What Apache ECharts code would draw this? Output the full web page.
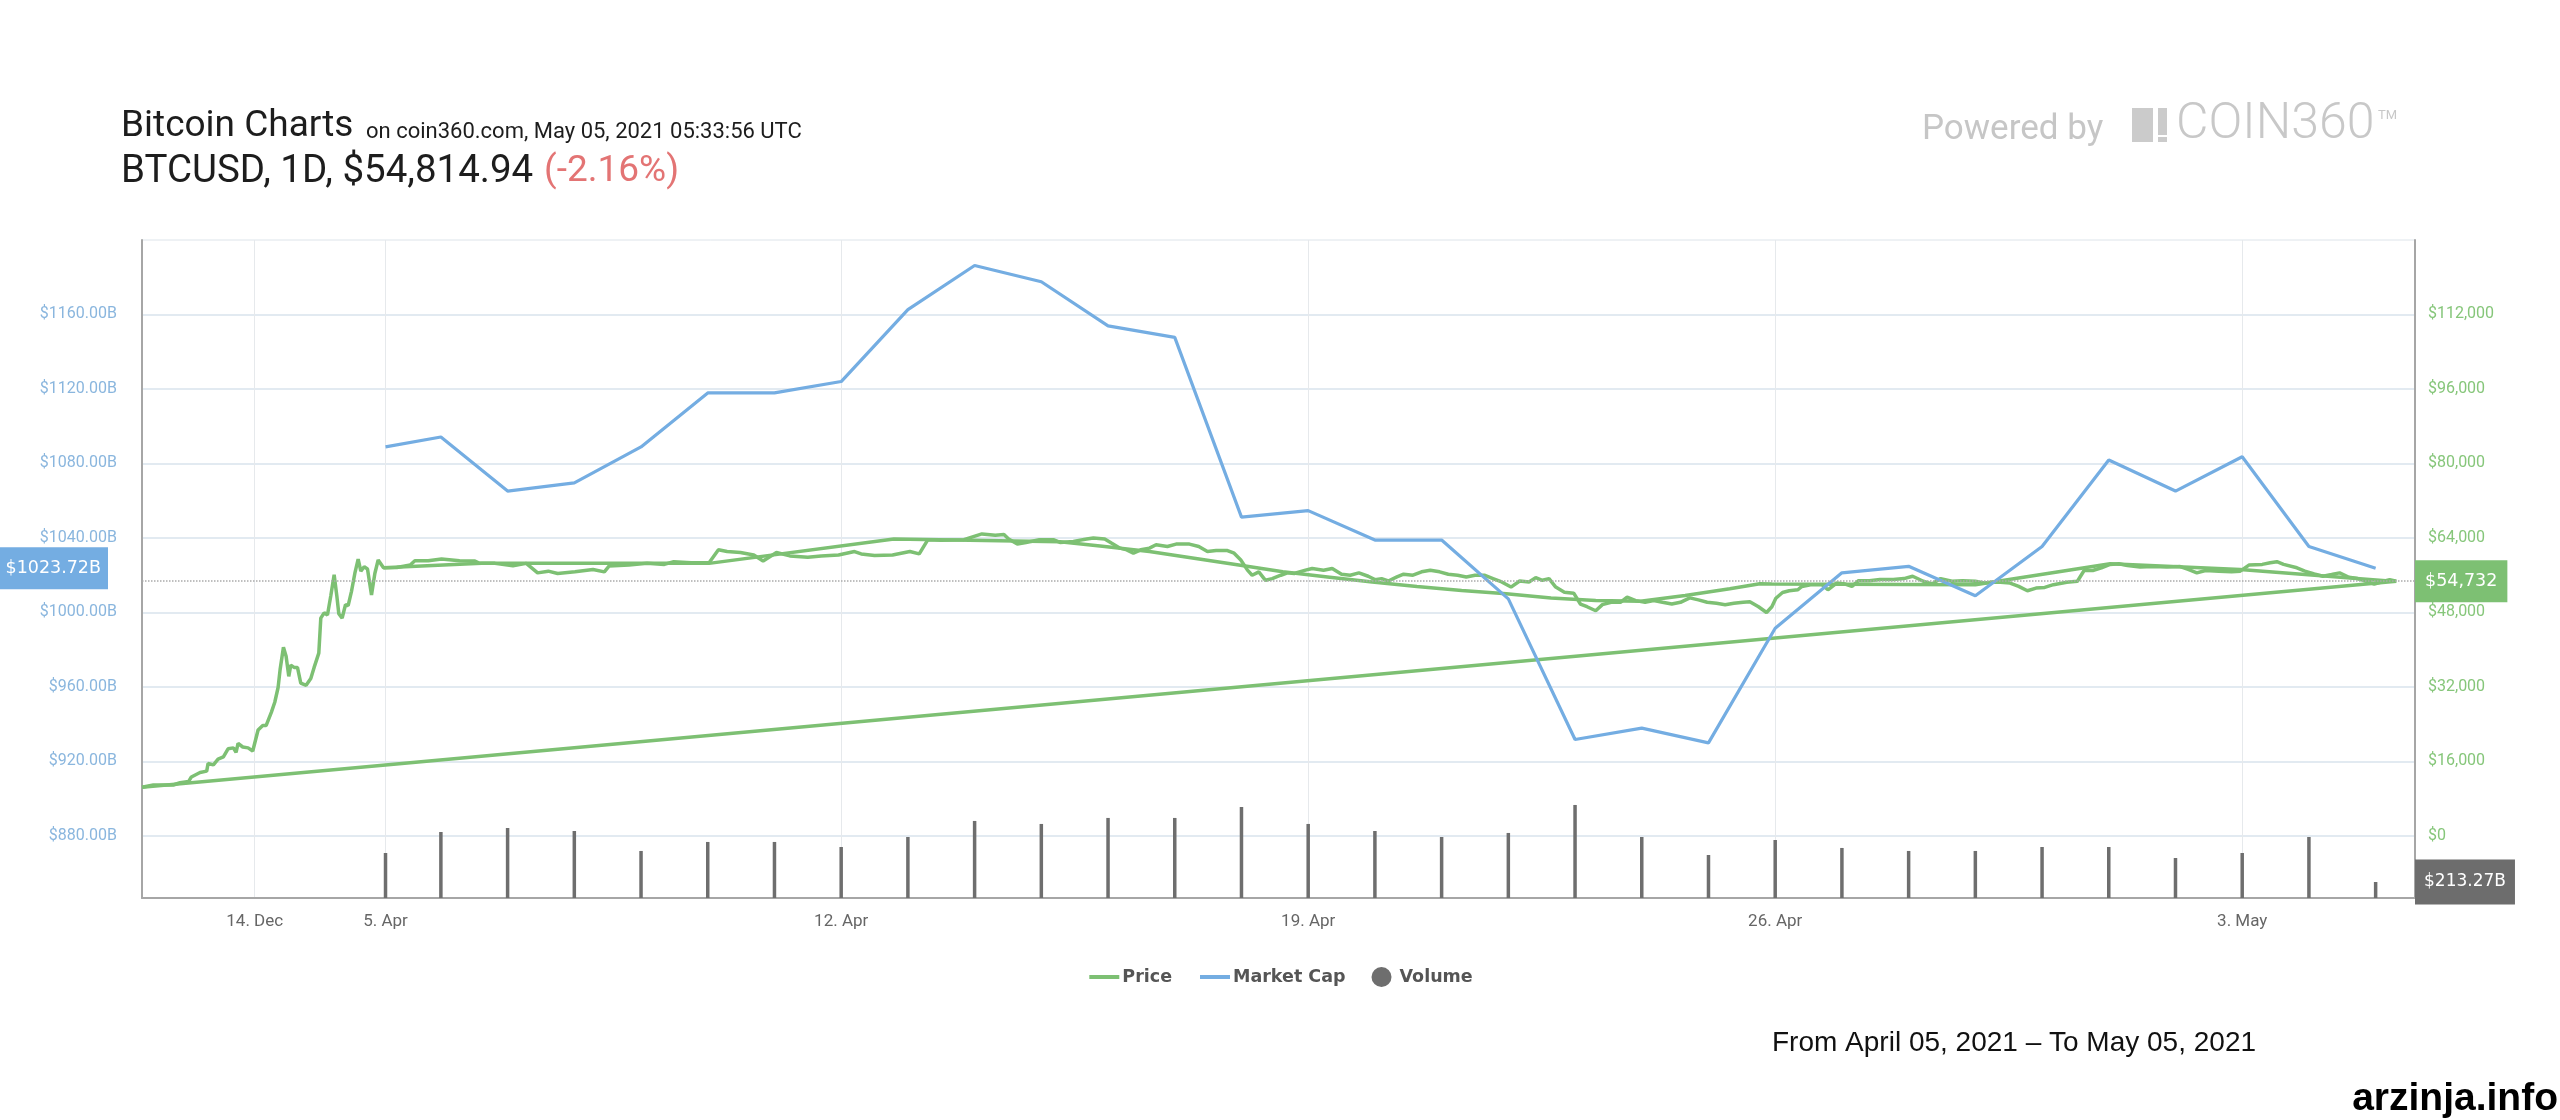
<!DOCTYPE html>
<html><head><meta charset="utf-8">
<script src="https://cdn.jsdelivr.net/npm/echarts@6/dist/echarts.min.js"></script>
<style>html,body{margin:0;padding:0;background:#fff}#c{width:2560px;height:1120px}</style>
</head><body><div id="c"></div>
<script>
// ---- tick labels ----
const xTickDays = [-1.79, 0.17, 7, 14, 21, 28];
const xTickLabels = ['14. Dec', '5. Apr', '12. Apr', '19. Apr', '26. Apr', '3. May'];
const marketCapTicks = [880, 920, 960, 1000, 1040, 1080, 1120, 1160];
const priceTicks = [0, 16000, 32000, 48000, 64000, 80000, 96000, 112000];

// ---- daily data (5 Apr 2021 ... 5 May 2021), x position in days ----
const days = [0.17,1,2,3,4,5,6,7,8,9,10,11,12,13,14,15,16,17,18,19,20,21,22,23,24,25,26,27,28,29,30];
const marketCap = [1088.9, 1094.2, 1065.2, 1069.6, 1088.9, 1117.9, 1117.9, 1124.0, 1162.6, 1186.3,
  1177.6, 1153.9, 1147.7, 1051.2, 1054.7, 1038.9, 1038.9, 1007.3, 931.8, 937.9,
  930.0, 991.5, 1021.3, 1024.8, 1009.0, 1035.4, 1081.9, 1065.2, 1083.6, 1035.4, 1023.72];
const volume = [600, 880, 933, 893, 627, 747, 747, 680, 813, 1027,
  987, 1067, 1067, 1213, 987, 893, 813, 867, 1240, 813,
  573, 773, 667, 627, 627, 680, 680, 533, 600, 813, 213.27];

// ---- price history (compressed section before 5 Apr) ----
const priceBefore = [[-3.48,10470],[-3.31,10950],[-3.01,10950],[-2.91,11430],[-2.78,11720],[-2.74,12680],[-2.61,13640],[-2.51,13930],[-2.49,15560],[-2.41,15270],[-2.34,16520],[-2.26,17000],[-2.19,18730],[-2.11,18920],[-2.07,17960],[-2.04,19880],[-1.97,19110],[-1.89,18920],[-1.82,18250],[-1.74,22760],[-1.67,23720],[-1.62,23720],[-1.54,26610],[-1.49,28720],[-1.44,31890],[-1.41,35730],[-1.36,40530],[-1.32,38610],[-1.28,34290],[-1.25,36690],[-1.20,36210],[-1.15,36210],[-1.10,32850],[-1.02,32370],[-0.95,33810],[-0.90,36210],[-0.83,39280],[-0.80,46780],[-0.75,47930],[-0.70,47450],[-0.65,51580],[-0.60,56090],[-0.56,51580],[-0.53,47740],[-0.48,46780],[-0.43,49660],[-0.39,49470],[-0.34,52540],[-0.29,56380],[-0.24,59460],[-0.20,56860],[-0.15,57820],[-0.10,57340],[-0.04,51770]];

// ---- intraday price 5 Apr - 5 May ----
const priceAfter = [[0.01,56380],[0.06,59275],[0.14,57600],[0.34,57675],[0.54,58180],[0.61,59130],[0.81,59130],[1.01,59500],[1.28,59130],[1.51,59060],[1.58,58550],[1.81,58550],[2.08,58040],[2.28,58550],[2.45,56510],[2.61,56875],[2.75,56370],[3.01,56730],[3.28,57240],[3.45,56730],[3.52,57970],[3.82,58180],[4.09,58550],[4.35,58330],[4.49,58910],[4.75,58690],[5.02,58690],[5.16,61455],[5.29,61090],[5.49,60870],[5.69,60365],[5.83,59060],[6.03,60870],[6.23,60150],[6.50,59860],[6.70,60150],[6.96,60365],[7.20,61090],[7.30,60580],[7.50,60220],[7.77,60365],[8.03,61090],[8.17,60580],[8.30,63640],[8.50,63490],[8.84,63640],[9.11,64870],[9.31,64580],[9.44,64730],[9.51,63780],[9.64,62690],[9.77,63050],[9.97,63640],[10.18,63640],
[10.28,63055],[10.48,63270],[10.68,63780],[10.78,64000],[10.95,63780],[11.05,62910],[11.18,61820],[11.28,61455],[11.38,60730],[11.49,61455],[11.62,61820],[11.72,62545],[11.89,62180],[12.02,62690],[12.22,62690],[12.36,62180],[12.49,61090],[12.62,61310],[12.79,61310],[12.89,60730],[12.99,59275],[13.09,57090],[13.16,56000],[13.26,56730],[13.36,54910],[13.46,55275],[13.59,56000],[13.69,56510],[13.79,56365],[13.96,57090],[14.06,57460],[14.23,57090],[14.36,57460],[14.50,56220],[14.63,56000],[14.76,56510],[14.90,55785],[15.00,55060],[15.10,55275],[15.20,54770],[15.33,55640],[15.43,56220],[15.57,56000],[15.70,56730],[15.83,57090],[15.97,56730],[16.10,56220],[16.24,56000],[16.37,55640],[16.50,56000],[16.64,56000],[16.77,55275],[16.90,54550],[17.04,53460],[17.17,54770],[17.31,54550],[17.41,55490],[17.51,54910],[17.61,55275],[17.71,53460],[17.84,52370],[17.98,52150],[18.08,49820],[18.18,49240],[18.31,48370],[18.41,49680],[18.54,50190],[18.68,50190],[18.78,51280],[18.91,50550],[19.05,50190],[19.18,50550],[19.31,50190],[19.45,49820],[19.58,50190],[19.72,51130],[19.85,50700],[19.98,50190],[20.12,49970],[20.25,49680],[20.38,49970],[20.52,50190],
[20.62,50330],[20.75,49240],[20.87,48000],[20.95,49240],[21.01,51060],[21.11,52300],[21.21,52660],[21.34,52880],[21.40,53600],[21.53,53970],[21.70,53970],[21.79,52880],[21.92,54330],[22.05,54110],[22.15,53600],[22.25,54840],[22.41,54840],[22.57,55060],[22.77,55060],[22.93,55280],[23.06,55790],[23.22,54700],[23.35,54110],[23.48,55280],[23.65,54700],[23.81,54840],[24.00,54700],[24.13,54330],[24.33,54550],[24.52,54330],[24.65,53600],[24.78,52660],[24.91,53240],[25.04,53390],[25.17,53970],[25.37,54480],[25.53,54700],[25.63,57020],[25.76,57020],[25.89,57600],[26.02,58330],[26.15,58470],[26.28,58110],[26.47,57750],[26.67,57890],[26.87,57750],[27.06,57890],[27.19,57240],[27.32,56510],[27.45,57020],[27.65,56880],[27.84,56730],[27.97,56880],[28.10,58180],[28.30,58330],[28.42,58690],[28.52,58910],[28.62,58330],[28.82,57600],[28.94,56880],[29.08,56290],[29.21,55790],[29.34,56150],[29.46,56510],[29.60,55570],[29.73,55280],[29.86,54700],[29.98,54110],[30.12,54700],[30.21,55060],[30.31,54732]];

// ---- coarse price line ----
const priceTrend = [[0.14,57600],[1.61,58550],[5.02,58550],[7.79,63780],[10.28,63200],[10.95,62180],[11.62,61090],[12.29,59640],[12.96,58180],[13.62,56730],[14.29,55640],[14.96,54550],[15.63,53600],[16.30,52730],[16.97,52000],[17.64,51130],[18.31,50550],[18.98,50400],[19.65,51640],[20.32,53090],[20.77,54180],[20.95,54110],[24.0,53970],[26.02,58470],[27.97,57240],[30.25,54700]];

const pricePoints = priceBefore.concat(priceAfter);
const priceSpan = [pricePoints[0], pricePoints[pricePoints.length - 1]];
const lastPrice = pricePoints[pricePoints.length - 1][1];
const lastCap = marketCap[marketCap.length - 1];
const lastVolume = volume[volume.length - 1];

const capPoints = days.map((d, i) => [d, marketCap[i]]);
const volumePoints = days.map((d, i) => [d, volume[i]]);

const GREEN = '#7dc073', BLUE = '#74ade2', GRAY = '#6e6e6e';
const AXISFONT = 'Roboto';
const BOXFONT = 'DejaVu Sans';
const CLEAR = 'rgba(0,0,0,0)';
const fmtPrice = v => '$' + Math.round(v).toString().replace(/\B(?=(\d{3})+(?!\d))/g, ',');
const fmtB = v => '$' + v.toFixed(2) + 'B';

const chart = echarts.init(document.getElementById('c'));
chart.setOption({
  animation: false,
  backgroundColor: '#fff',
  grid: { left: 142, right: 145, top: 240, bottom: 222, show: true, borderColor: '#dde4ea', borderWidth: 1 },
  legend: {
    left: 'center', top: 962, itemWidth: 30, itemHeight: 20, itemGap: 26,
    textStyle: { fontFamily: 'DejaVu Sans', fontWeight: 'bold', fontSize: 17.5, color: '#555', padding: [0, 0, 0, -2] },
    data: [
      { name: 'Price', itemStyle: { opacity: 0 }, lineStyle: { width: 4 } },
      { name: 'Market Cap', itemStyle: { opacity: 0 }, lineStyle: { width: 4 } },
      { name: 'Volume', icon: 'circle' }
    ]
  },
  xAxis: {
    type: 'value', min: -3.48, max: 30.59,
    axisLine: { show: true, onZero: false, lineStyle: { color: '#a6a6a6', width: 2 } },
    axisTick: { show: false, customValues: xTickDays },
    axisLabel: {
      customValues: xTickDays, margin: 15, color: '#666', fontFamily: AXISFONT, fontSize: 17,
      formatter: v => { let b = 0; xTickDays.forEach((t, i) => { if (Math.abs(t - v) < Math.abs(xTickDays[b] - v)) b = i; }); return xTickLabels[b]; }
    },
    splitLine: { show: true, lineStyle: { color: '#e6e9ec', width: 1 } }
  },
  yAxis: [
    {
      type: 'value', position: 'left', min: 846.7, max: 1200,
      axisLine: { show: true, onZero: false, lineStyle: { color: '#a6a6a6', width: 2 } },
      axisTick: { show: false, customValues: marketCapTicks },
      axisLabel: { customValues: marketCapTicks, margin: 25, color: '#8ab6de', fontFamily: AXISFONT, fontSize: 16, formatter: fmtB },
      splitLine: { show: true, lineStyle: { color: '#d9e3ec', width: 1.5 } }
    },
    {
      type: 'value', position: 'right', min: -13320, max: 128000,
      axisLine: { show: true, onZero: false, lineStyle: { color: '#a6a6a6', width: 2 } },
      axisTick: { show: false, customValues: priceTicks },
      axisLabel: { customValues: priceTicks, margin: 13, color: '#86c67a', fontFamily: AXISFONT, fontSize: 16, formatter: fmtPrice },
      splitLine: { show: false }
    },
    { type: 'value', min: 0, max: 8770, show: false }
  ],
  series: [
    {
      name: 'Volume', type: 'bar', yAxisIndex: 2, data: volumePoints, barWidth: 3.5,
      itemStyle: { color: GRAY }, z: 1,
      markLine: {
        silent: true, symbol: ['none', 'none'],
        lineStyle: { color: CLEAR, width: 0 },
        label: { position: 'end', distance: 0, formatter: () => fmtB(lastVolume), color: '#fff',
          backgroundColor: '#6d6d6d', padding: [14, 9, 14, 9], fontFamily: BOXFONT, fontSize: 17 },
        data: [{ yAxis: lastVolume }]
      }
    },
    {
      name: 'Price', type: 'line', yAxisIndex: 1, data: pricePoints, symbol: 'none', z: 3,
      lineStyle: { color: GREEN, width: 3.5 }, itemStyle: { color: GREEN },
      markLine: {
        silent: true, symbol: ['none', 'none'],
        lineStyle: { color: '#aaa', type: 'dotted', width: 1.5 },
        label: { position: 'end', distance: 0, formatter: () => fmtPrice(lastPrice), color: '#fff',
          backgroundColor: GREEN, padding: [12, 10, 12, 10], fontFamily: BOXFONT, fontSize: 17.5 },
        data: [{ yAxis: lastPrice }]
      }
    },
    {
      name: 'Price', type: 'line', yAxisIndex: 1, data: priceTrend, symbol: 'none', z: 3,
      lineStyle: { color: GREEN, width: 3.5 }, itemStyle: { color: GREEN }
    },
    {
      name: 'Price', type: 'line', yAxisIndex: 1, data: priceSpan, symbol: 'none', z: 3,
      lineStyle: { color: GREEN, width: 3.5 }, itemStyle: { color: GREEN }
    },
    {
      name: 'Market Cap', type: 'line', yAxisIndex: 0, data: capPoints, symbol: 'none', z: 4,
      lineStyle: { color: BLUE, width: 3.2 }, itemStyle: { color: BLUE },
      markLine: {
        silent: true, symbol: ['none', 'none'],
        lineStyle: { color: CLEAR, width: 0 },
        label: { position: 'start', distance: 34, formatter: () => fmtB(lastCap), color: '#fff',
          backgroundColor: BLUE, padding: [12, 7, 12, 7], fontFamily: BOXFONT, fontSize: 17.5 },
        data: [{ yAxis: lastCap }]
      }
    }
  ],
  graphic: [
    { type: 'text', x: 121, y: 127, style: { text: 'Bitcoin Charts', fontFamily: 'Roboto', fontSize: 37, fill: '#1d1d1d', align: 'left', verticalAlign: 'middle' } },
    { type: 'text', x: 366, y: 132, style: { text: 'on coin360.com, May 05, 2021 05:33:56 UTC', fontFamily: 'Roboto', fontSize: 22, fill: '#1d1d1d', align: 'left', verticalAlign: 'middle' } },
    { type: 'text', x: 121, y: 172, style: { text: 'BTCUSD, 1D, $54,814.94', fontFamily: 'Roboto', fontSize: 38.5, fill: '#1d1d1d', align: 'left', verticalAlign: 'middle' } },
    { type: 'text', x: 544, y: 172, style: { text: '(-2.16%)', fontFamily: 'Roboto', fontSize: 37, fill: '#e37474', align: 'left', verticalAlign: 'middle' } },
    { type: 'text', x: 1922, y: 130, style: { text: 'Powered by', fontFamily: 'Roboto', fontSize: 35, fill: '#c6c6c6', align: 'left', verticalAlign: 'middle' } },
    { type: 'rect', shape: { x: 2132, y: 108, width: 21, height: 34 }, style: { fill: '#cbcbcb' } },
    { type: 'rect', shape: { x: 2158, y: 108, width: 9, height: 27 }, style: { fill: '#cbcbcb' } },
    { type: 'rect', shape: { x: 2158, y: 137, width: 9, height: 5 }, style: { fill: '#cbcbcb' } },
    { type: 'text', x: 2176, y: 125, style: { text: 'COIN360', fontFamily: 'Roboto', fontWeight: 300, fontSize: 50, fill: '#c8c8c8', align: 'left', verticalAlign: 'middle' } },
    { type: 'text', x: 2378, y: 116, style: { text: 'TM', fontFamily: 'Roboto', fontSize: 13, fill: '#c8c8c8', align: 'left', verticalAlign: 'middle' } },
    { type: 'text', x: 1772, y: 1043, style: { text: 'From April 05, 2021 \u2013 To May 05, 2021', fontFamily: 'Liberation Sans', fontSize: 28, fill: '#111', align: 'left', verticalAlign: 'middle' } },
    { type: 'text', x: 2558, y: 1099, style: { text: 'arzinja.info', fontFamily: 'Liberation Sans', fontWeight: 'bold', fontSize: 39, fill: '#000', align: 'right', verticalAlign: 'middle' } }
  ]
});
</script></body></html>
